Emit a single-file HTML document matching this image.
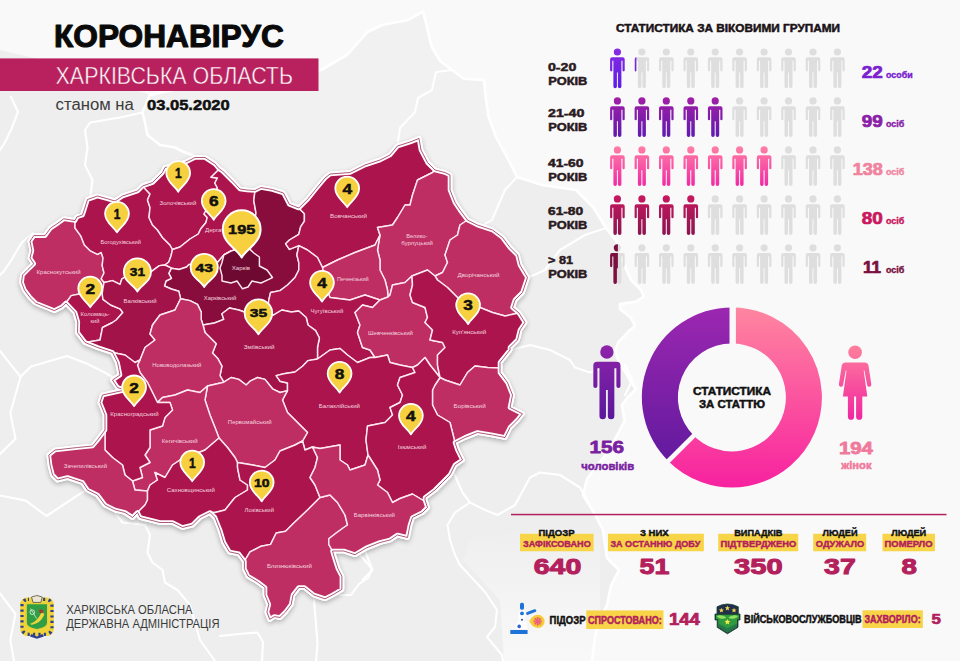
<!DOCTYPE html>
<html lang="uk"><head><meta charset="utf-8"><title>Коронавірус — Харківська область</title>
<style>
html,body{margin:0;padding:0;background:#eeeeee;}
body{width:960px;height:661px;overflow:hidden;position:relative;font-family:"Liberation Sans",sans-serif;}
svg{position:absolute;left:0;top:0;display:block}
text{font-family:"Liberation Sans",sans-serif;}
.b{font-weight:bold}
.lbl{font-size:6.2px;fill:#f3d3df;text-anchor:middle}
.pin{font-weight:bold;text-anchor:middle;fill:#111}
</style></head><body>
<svg width="960" height="661" viewBox="0 0 960 661">
<defs>
<linearGradient id="bgfade" x1="0" x2="1" y1="0" y2="0"><stop offset="0" stop-color="#f8f8f8" stop-opacity="0"/><stop offset="1" stop-color="#f8f8f8" stop-opacity="1"/></linearGradient>
<filter id="sh" x="-5%" y="-5%" width="110%" height="112%"><feGaussianBlur in="SourceAlpha" stdDeviation="2.5"/><feOffset dx="0" dy="2"/><feComponentTransfer><feFuncA type="linear" slope="0.28"/></feComponentTransfer><feMerge><feMergeNode/><feMergeNode in="SourceGraphic"/></feMerge></filter>
</defs>

<polygon points="0.0,-10.0 0.0,50.0 60.0,64.0 150.0,95.0 200.0,84.0 321.0,70.0 347.0,55.0 367.5,32.0 382.0,25.0 408.0,20.0 423.0,11.7 426.0,23.0 431.6,46.6 440.0,61.0 452.0,70.0 463.7,78.7 484.0,80.0 485.5,96.0 488.5,116.6 496.0,137.0 510.0,163.0 517.0,177.0 542.0,185.0 576.0,190.0 593.0,207.0 606.0,228.0 619.0,245.0 623.0,262.0 631.0,280.0 641.0,290.0 644.0,296.5 636.0,301.6 620.0,304.0 620.0,309.0 631.0,318.0 635.0,326.0 628.6,331.0 623.5,337.0 618.5,342.0 615.0,350.0 619.0,362.0 627.0,375.0 631.0,382.0 636.0,389.0 627.0,398.0 622.0,405.0 624.5,420.7 620.0,430.0 615.0,439.0 610.0,450.0 597.0,465.0 587.0,479.0 583.0,495.0 595.0,514.5 603.0,530.0 607.0,558.0 619.0,570.0 611.0,585.5 607.0,605.0 599.0,621.0 595.0,637.0 591.0,670.0 970.0,670.0 970.0,-10.0" fill="#f9f9f9"/>
<polygon points="195.0,156.0 185.0,152.5 175.0,147.5 160.0,145.0 147.5,135.0 145.0,122.5 142.5,112.5 150.0,95.0 200.0,84.0 321.0,70.0 347.0,55.0 367.5,32.0 382.0,25.0 408.0,20.0 423.0,11.7 426.0,23.0 431.6,46.6 440.0,61.0 452.0,70.0 463.7,78.7 484.0,80.0 485.5,96.0 488.5,116.6 496.0,137.0 510.0,163.0 517.0,177.0 505.0,190.0 492.0,220.0 480.0,227.0 435.0,172.0 417.0,143.0 330.0,176.0 300.0,208.0 255.0,192.0 220.0,172.0" fill="#f1f1f1"/>
<defs><linearGradient id="bglow" x1="0" y1="0" x2="0" y2="1"><stop offset="0" stop-color="#f9f9f9" stop-opacity="0"/><stop offset="1" stop-color="#f9f9f9" stop-opacity="0.95"/></linearGradient></defs>
<polygon points="500,600 463,560 470,540 600,520 600,661 504,661" fill="url(#bglow)"/>
<g fill="none" stroke="#ffffff" stroke-linejoin="round" stroke-linecap="round">
<path d="M150.0,95.0 L200.0,84.0 L321.0,70.0 L347.0,55.0 L367.5,32.0 L382.0,25.0 L408.0,20.0 L423.0,11.7 L426.0,23.0 L431.6,46.6 L440.0,61.0 L452.0,70.0 L463.7,78.7 L484.0,80.0 L485.5,96.0 L488.5,116.6 L496.0,137.0 L510.0,163.0 L517.0,177.0 L542.0,185.0 L576.0,190.0 L593.0,207.0 L606.0,228.0 L619.0,245.0 L623.0,262.0 L631.0,280.0 L641.0,290.0 L644.0,296.5 L636.0,301.6 L620.0,304.0 L620.0,309.0 L631.0,318.0 L635.0,326.0 L628.6,331.0 L623.5,337.0 L618.5,342.0 L615.0,350.0 L619.0,362.0 L627.0,375.0 L631.0,382.0 L636.0,389.0 L627.0,398.0 L622.0,405.0 L624.5,420.7 L620.0,430.0 L615.0,439.0 L610.0,450.0 L597.0,465.0 L587.0,479.0 L583.0,495.0 L595.0,514.5 L603.0,530.0 L607.0,558.0 L619.0,570.0 L611.0,585.5 L607.0,605.0 L599.0,621.0 L595.0,637.0 L591.0,670.0" stroke-width="2.6"/>
<path d="M195.0,156.0 L185.0,152.5 L175.0,147.5 L160.0,145.0 L147.5,135.0 L145.0,122.5 L142.5,112.5 L150.0,95.0" stroke-width="2.6"/>
<path d="M517.0,177.0 L505.0,190.0 L492.0,220.0 L480.0,227.0" stroke-width="2"/>
<path d="M142.5,112.5 L120.0,117.5 L90.0,122.5 L85.0,130.0 L87.5,147.5 L85.0,165.0 L92.5,180.0 L90.0,200.0" stroke-width="2.1"/>
<path d="M11.0,97.0 L18.0,112.0 L11.0,130.0 L4.0,144.0 L0.0,150.0" stroke-width="2.1"/>
<path d="M32.7,233.0 L21.8,242.5 L11.0,260.6 L3.6,271.5 L0.0,275.0" stroke-width="2.1"/>
<path d="M0.0,351.0 L20.6,376.8 L31.0,366.4 L67.0,356.0 L87.7,364.0 L103.0,371.6 L116.0,379.0" stroke-width="2.1"/>
<path d="M20.6,376.8 L10.3,413.0 L15.5,438.7 L0.0,454.0" stroke-width="2.1"/>
<path d="M0.0,593.5 L15.5,614.0 L10.3,640.0 L14.0,661.0" stroke-width="2.1"/>
<path d="M115.0,512.5 L122.5,522.5 L145.0,525.0 L150.0,535.0 L147.5,552.5 L152.5,562.5 L162.5,570.0 L165.0,582.5 L177.5,590.0 L190.0,605.0 L200.0,640.0 L215.0,661.0" stroke-width="2.1"/>
<path d="M0.0,495.5 L25.8,500.6 L46.4,516.0 L77.4,495.5 L84.0,491.0" stroke-width="2.1"/>
<path d="M336.0,595.0 L351.0,595.0 L359.0,584.0 L368.0,578.0 L372.0,569.0 L362.5,557.5 L358.0,554.0" stroke-width="2.1"/>
<path d="M314.0,600.0 L315.6,619.0 L317.5,644.0 L316.0,661.0" stroke-width="2.1"/>
<path d="M220.0,636.0 L239.0,634.0 L257.5,632.5 L263.0,642.0 L262.0,661.0" stroke-width="2.1"/>
<path d="M452.5,470.0 L462.5,492.5 L470.0,502.5 L485.0,510.0 L497.5,515.0 L515.0,505.0 L530.0,477.5 L540.0,472.5 L560.0,475.0 L580.0,487.5 L590.0,505.0" stroke-width="2.1"/>
<path d="M470.0,502.5 L455.0,512.5 L447.5,525.0 L450.0,540.0 L455.0,555.0 L460.0,565.0 L485.0,592.0 L497.0,610.0 L495.0,627.0 L487.0,637.0 L502.0,655.0 L503.0,661.0" stroke-width="2.1"/>
<path d="M365.0,551.0 L372.5,570.0 L362.5,580.0" stroke-width="2.1"/>
<path d="M510.0,350.0 L530.0,345.0 L550.0,350.0 L570.0,360.0 L575.0,367.5 L590.0,372.5 L619.0,362.0" stroke-width="2.1"/>
<path d="M398.0,142.0 L400.0,128.0 L415.0,112.0 L418.0,98.0 L432.0,90.0 L436.0,72.0 L452.0,70.0" stroke-width="2.1"/>
<path d="M625.0,365.0 L632.5,380.0 L625.0,395.0" stroke-width="2.1"/>
<path d="M527.0,278.0 L545.0,270.0 L560.0,250.0 L585.0,235.0 L606.0,228.0" stroke-width="2.1"/>
</g>
<g id="map">
<polygon points="75.0,220.6 76.9,216.9 82.5,215.0 84.4,209.4 87.5,199.5 97.5,196.0 107.5,198.8 115.0,201.0 122.5,196.0 137.5,191.0 142.5,186.0 152.5,182.5 162.5,172.5 165.0,167.5 172.5,166.0 185.0,162.5 195.0,157.5 205.0,157.5 215.0,164.0 219.3,169.0 222.5,171.0 232.5,181.0 240.0,189.0 247.0,190.0 255.0,190.5 261.0,187.5 272.5,189.5 283.5,193.0 289.4,204.4 298.8,208.0 308.0,198.8 315.6,189.4 325.0,178.0 330.0,174.0 350.0,172.5 365.0,165.0 380.0,160.0 390.0,155.0 397.5,146.0 410.0,142.0 419.0,138.5 421.0,150.0 427.5,162.5 435.0,170.0 445.0,172.5 450.0,175.0 450.0,190.0 455.0,202.5 460.0,210.0 467.5,220.0 477.5,225.0 492.5,230.0 502.5,237.5 510.0,247.5 517.5,255.0 520.0,265.0 527.5,277.5 525.0,285.0 522.5,292.5 515.0,300.0 512.5,307.5 519.0,313.0 525.0,322.5 520.0,330.0 517.5,340.0 510.0,347.5 510.0,350.0 500.0,362.5 500.0,368.0 500.0,372.5 507.5,382.5 512.5,395.0 510.0,407.5 522.5,413.8 517.5,420.0 510.0,427.5 505.0,437.5 492.5,435.0 477.5,432.5 465.0,437.5 455.0,442.5 457.5,450.0 462.5,460.0 455.0,465.0 450.0,475.0 442.5,482.5 435.0,490.0 425.0,497.5 425.0,500.0 427.5,507.5 422.5,512.5 412.5,517.5 410.0,525.0 407.5,537.5 397.5,535.0 390.0,540.0 380.0,542.5 366.2,548.0 355.0,554.7 343.8,551.0 332.5,551.0 334.4,557.5 338.0,568.8 341.9,576.2 341.9,589.4 332.5,595.0 325.0,598.8 313.8,595.0 304.4,587.5 298.8,587.5 293.0,595.0 291.2,604.4 285.6,612.0 280.0,617.5 274.4,616.6 269.7,619.4 266.9,612.0 268.8,604.4 265.0,595.0 265.0,587.5 257.5,581.9 248.0,576.2 244.4,568.8 244.4,561.2 238.8,553.8 229.4,551.9 223.8,542.5 220.0,530.0 215.0,517.5 210.0,512.5 200.0,517.5 192.5,525.0 182.5,527.5 172.5,522.5 160.0,522.5 150.0,520.0 140.0,517.5 137.5,512.5 132.5,517.5 125.0,512.5 115.0,510.0 105.0,505.0 97.5,495.0 87.5,490.0 82.5,482.5 67.5,477.5 57.5,480.0 52.5,475.0 50.0,465.0 48.8,455.0 55.0,450.0 77.5,447.5 92.5,446.0 97.5,440.0 105.0,430.0 105.0,415.0 100.0,402.5 102.5,395.0 125.0,390.0 117.5,387.5 112.5,380.0 120.0,375.0 117.5,362.5 112.5,352.5 97.5,347.5 85.0,342.5 77.5,332.5 77.8,322.0 75.0,312.5 66.0,303.0 61.9,306.9 54.4,310.6 45.0,306.9 35.6,303.0 30.0,297.5 24.4,290.0 21.6,282.5 22.5,275.0 28.0,269.4 33.8,263.8 30.0,258.0 31.9,250.6 30.0,241.2 33.8,235.6 45.0,235.6 50.6,228.0 56.2,224.4 63.8,218.8" fill="#ac144d" stroke="#fff" stroke-width="4.6" stroke-linejoin="round" filter="url(#sh)"/>
<polygon points="75.0,220.6 75.0,228.0 80.6,235.6 84.4,245.0 90.0,250.6 97.5,254.4 101.2,252.5 103.0,258.0 102.2,265.6 104.0,273.0 101.2,278.8 104.0,282.5 103.0,288.0 102.2,293.8 95.0,292.0 80.6,293.8 71.2,295.6 66.0,303.0 61.9,306.9 54.4,310.6 45.0,306.9 35.6,303.0 30.0,297.5 24.4,290.0 21.6,282.5 22.5,275.0 28.0,269.4 33.8,263.8 30.0,258.0 31.9,250.6 30.0,241.2 33.8,235.6 45.0,235.6 50.6,228.0 56.2,224.4 63.8,218.8" fill="#be2e62" stroke="#ffe9f0" stroke-width="1.45" stroke-linejoin="round"/>
<polygon points="66.0,303.0 71.2,295.6 80.6,293.8 95.0,292.0 102.2,293.8 103.0,299.4 110.6,305.0 120.0,308.8 122.8,312.5 116.2,320.0 112.5,322.5 102.5,327.5 100.0,340.0 85.0,342.5 77.5,332.5 77.8,322.0 75.0,312.5" fill="#ac144d" stroke="#ffe9f0" stroke-width="1.45" stroke-linejoin="round"/>
<polygon points="75.0,220.6 76.9,216.9 82.5,215.0 84.4,209.4 87.5,199.5 97.5,196.0 107.5,198.8 115.0,201.0 122.5,196.0 137.5,191.0 142.5,186.0 150.0,194.0 147.5,200.0 150.0,207.5 149.0,217.5 152.5,225.0 157.5,230.0 162.5,237.5 170.0,245.0 172.5,249.5 171.0,256.0 168.8,262.0 165.0,265.0 159.4,265.6 151.9,271.2 140.0,274.0 125.6,276.9 121.9,278.8 120.0,284.4 112.5,280.6 104.0,282.5 101.2,278.8 104.0,273.0 102.2,265.6 103.0,258.0 101.2,252.5 97.5,254.4 90.0,250.6 84.4,245.0 80.6,235.6 75.0,228.0" fill="#ac144d" stroke="#ffe9f0" stroke-width="1.45" stroke-linejoin="round"/>
<polygon points="142.5,186.0 152.5,182.5 162.5,172.5 165.0,167.5 172.5,166.0 185.0,162.5 195.0,157.5 205.0,157.5 215.0,164.0 219.3,169.0 211.0,177.3 217.4,178.0 214.8,183.0 217.4,188.0 212.0,200.0 204.0,214.0 207.2,217.4 206.0,222.5 200.8,228.8 198.3,234.0 190.0,239.0 180.0,247.0 172.5,249.5 170.0,245.0 162.5,237.5 157.5,230.0 152.5,225.0 149.0,217.5 150.0,207.5 147.5,200.0 150.0,194.0" fill="#ac144d" stroke="#ffe9f0" stroke-width="1.45" stroke-linejoin="round"/>
<polygon points="219.3,169.0 222.5,171.0 232.5,181.0 240.0,189.0 247.0,190.0 255.0,190.5 253.8,200.6 256.0,213.0 254.0,225.0 254.0,240.0 250.0,249.4 240.0,249.0 231.0,251.0 223.8,255.0 217.5,262.5 205.0,266.0 189.0,264.4 186.6,267.0 179.0,269.5 171.4,268.2 165.0,265.0 168.8,262.0 171.0,256.0 172.5,249.5 180.0,247.0 190.0,239.0 198.3,234.0 200.8,228.8 206.0,222.5 207.2,217.4 204.0,214.0 212.0,200.0 217.4,188.0 214.8,183.0 217.4,178.0 211.0,177.3" fill="#ac144d" stroke="#ffe9f0" stroke-width="1.45" stroke-linejoin="round"/>
<polygon points="255.0,190.5 261.0,187.5 272.5,189.5 283.5,193.0 289.4,204.4 298.8,208.0 304.4,213.8 304.4,221.2 300.6,226.9 298.8,234.4 289.4,240.0 285.6,243.8 289.4,249.4 298.8,245.6 296.9,255.0 298.8,262.5 298.8,270.0 295.0,277.5 287.5,285.0 280.0,290.6 270.6,292.5 268.8,300.0 268.0,308.0 255.0,310.0 244.4,312.0 238.8,310.0 229.4,308.0 221.9,313.8 223.8,319.4 214.4,323.0 203.0,325.0 201.2,319.4 201.2,312.0 197.5,304.4 190.0,300.6 180.6,298.8 178.8,291.2 171.3,289.0 164.5,286.0 166.0,281.0 171.4,278.4 168.8,273.3 171.4,268.2 179.0,269.5 186.6,267.0 189.0,264.4 205.0,266.0 217.5,262.5 223.8,255.0 231.0,251.0 240.0,249.0 250.0,249.4 254.0,240.0 254.0,225.0 256.0,213.0 253.8,200.6" fill="#880d3c" stroke="#ffe9f0" stroke-width="1.45" stroke-linejoin="round"/>
<polygon points="104.0,282.5 112.5,280.6 120.0,284.4 121.9,278.8 125.6,276.9 140.0,274.0 151.9,271.2 159.4,265.6 165.0,265.0 171.4,268.2 168.8,273.3 171.4,278.4 166.0,281.0 164.5,286.0 171.3,289.0 178.8,291.2 180.6,298.8 175.0,310.0 160.0,315.0 152.5,325.0 150.0,334.0 155.0,340.0 145.0,347.5 140.0,360.0 135.0,362.5 125.0,355.0 112.5,352.5 97.5,347.5 85.0,342.5 100.0,340.0 102.5,327.5 112.5,322.5 116.2,320.0 122.8,312.5 120.0,308.8 110.6,305.0 103.0,299.4 102.2,293.8 103.0,288.0" fill="#a2134a" stroke="#ffe9f0" stroke-width="1.45" stroke-linejoin="round"/>
<polygon points="298.8,208.0 308.0,198.8 315.6,189.4 325.0,178.0 330.0,174.0 350.0,172.5 365.0,165.0 380.0,160.0 390.0,155.0 397.5,146.0 410.0,142.0 419.0,138.5 421.0,150.0 427.5,162.5 435.0,170.0 432.5,172.5 417.5,180.0 412.5,195.0 410.0,205.0 405.0,205.0 397.5,217.5 392.5,225.0 377.5,227.5 380.0,235.0 375.0,245.0 355.0,252.5 337.5,260.0 322.5,267.5 317.5,257.5 307.5,250.0 298.8,245.6 289.4,249.4 285.6,243.8 289.4,240.0 298.8,234.4 300.6,226.9 304.4,221.2 304.4,213.8" fill="#ac144d" stroke="#ffe9f0" stroke-width="1.45" stroke-linejoin="round"/>
<polygon points="435.0,170.0 445.0,172.5 450.0,175.0 450.0,190.0 455.0,202.5 460.0,210.0 467.5,220.0 460.0,225.0 457.5,235.0 450.0,240.0 447.5,247.5 445.0,255.0 447.5,262.5 442.5,272.5 435.0,276.0 427.5,270.0 412.0,276.0 405.0,282.5 392.5,285.0 390.0,295.0 388.0,297.0 387.5,290.0 385.0,280.0 380.0,270.0 380.0,260.0 377.5,250.0 380.0,235.0 377.5,227.5 392.5,225.0 397.5,217.5 405.0,205.0 410.0,205.0 412.5,195.0 417.5,180.0 432.5,172.5" fill="#be2e62" stroke="#ffe9f0" stroke-width="1.45" stroke-linejoin="round"/>
<polygon points="467.5,220.0 477.5,225.0 492.5,230.0 502.5,237.5 510.0,247.5 517.5,255.0 520.0,265.0 527.5,277.5 525.0,285.0 522.5,292.5 515.0,300.0 512.5,307.5 519.0,313.0 505.0,316.0 492.5,312.5 480.0,307.5 468.0,303.0 457.5,297.5 447.5,287.5 437.5,280.0 435.0,276.0 442.5,272.5 447.5,262.5 445.0,255.0 447.5,247.5 450.0,240.0 457.5,235.0 460.0,225.0" fill="#be2e62" stroke="#ffe9f0" stroke-width="1.45" stroke-linejoin="round"/>
<polygon points="380.0,235.0 375.0,245.0 355.0,252.5 337.5,260.0 322.5,267.5 325.0,285.0 330.0,297.5 350.0,300.0 365.0,295.0 380.0,300.0 388.0,297.0 387.5,290.0 385.0,280.0 380.0,270.0 380.0,260.0 377.5,250.0" fill="#be2e62" stroke="#ffe9f0" stroke-width="1.45" stroke-linejoin="round"/>
<polygon points="298.8,245.6 307.5,250.0 317.5,257.5 322.5,267.5 325.0,285.0 330.0,297.5 350.0,300.0 365.0,295.0 380.0,300.0 372.5,307.5 362.5,305.0 355.0,312.5 360.0,325.0 357.5,332.5 360.0,340.0 362.5,347.5 370.0,350.0 375.0,357.5 370.0,357.5 357.5,362.5 347.5,355.0 340.0,348.5 330.0,350.0 317.5,359.0 317.5,347.5 319.4,338.0 315.6,330.6 308.0,325.0 306.2,317.5 298.8,311.0 291.2,312.0 281.9,310.0 272.5,315.6 268.0,308.0 268.8,300.0 270.6,292.5 280.0,290.6 287.5,285.0 295.0,277.5 298.8,270.0 298.8,262.5 296.9,255.0" fill="#ac144d" stroke="#ffe9f0" stroke-width="1.45" stroke-linejoin="round"/>
<polygon points="412.0,276.0 412.5,285.0 410.0,295.0 412.5,302.5 425.0,307.5 427.5,317.5 425.0,322.5 432.5,330.0 430.0,340.0 442.5,342.5 445.0,347.5 437.5,355.0 437.5,365.0 440.0,377.5 430.0,365.0 425.0,357.5 417.5,365.0 412.5,367.5 400.0,365.0 390.0,362.5 387.5,355.0 375.0,357.5 370.0,350.0 362.5,347.5 360.0,340.0 357.5,332.5 360.0,325.0 355.0,312.5 362.5,305.0 372.5,307.5 380.0,300.0 388.0,297.0 390.0,295.0 392.5,285.0 405.0,282.5" fill="#be2e62" stroke="#ffe9f0" stroke-width="1.45" stroke-linejoin="round"/>
<polygon points="435.0,276.0 437.5,280.0 447.5,287.5 457.5,297.5 468.0,303.0 480.0,307.5 492.5,312.5 505.0,316.0 519.0,313.0 525.0,322.5 520.0,330.0 517.5,340.0 510.0,347.5 510.0,350.0 500.0,362.5 500.0,368.0 487.5,367.5 475.0,366.0 467.5,372.5 460.0,385.0 452.5,382.5 445.0,380.0 440.0,377.5 437.5,365.0 437.5,355.0 445.0,347.5 442.5,342.5 430.0,340.0 432.5,330.0 425.0,322.5 427.5,317.5 425.0,307.5 412.5,302.5 410.0,295.0 412.5,285.0 412.0,276.0 427.5,270.0" fill="#ac144d" stroke="#ffe9f0" stroke-width="1.45" stroke-linejoin="round"/>
<polygon points="268.0,308.0 272.5,315.6 281.9,310.0 291.2,312.0 298.8,311.0 306.2,317.5 308.0,325.0 315.6,330.6 319.4,338.0 317.5,347.5 317.5,359.0 308.0,360.6 302.5,366.2 295.0,372.0 283.8,373.8 276.2,375.6 280.0,381.2 287.5,383.0 287.5,390.6 280.0,392.5 272.5,388.8 265.0,379.4 257.5,377.5 250.0,381.2 246.2,385.0 238.8,379.4 231.2,377.5 223.8,382.2 220.0,375.6 221.9,366.2 218.0,358.8 212.5,353.0 216.2,343.8 208.8,336.2 205.0,332.5 203.0,325.0 214.4,323.0 223.8,319.4 221.9,313.8 229.4,308.0 238.8,310.0 244.4,312.0 255.0,310.0" fill="#a2134a" stroke="#ffe9f0" stroke-width="1.45" stroke-linejoin="round"/>
<polygon points="203.0,325.0 205.0,332.5 208.8,336.2 216.2,343.8 212.5,353.0 218.0,358.8 221.9,366.2 220.0,375.6 223.8,382.2 207.5,386.0 200.0,392.5 187.5,390.0 175.0,395.0 162.5,397.5 157.5,402.5 147.5,382.5 140.0,372.5 137.5,365.0 140.0,360.0 145.0,347.5 155.0,340.0 150.0,334.0 152.5,325.0 160.0,315.0 175.0,310.0 180.6,298.8 190.0,300.6 197.5,304.4 201.2,312.0 201.2,319.4" fill="#be2e62" stroke="#ffe9f0" stroke-width="1.45" stroke-linejoin="round"/>
<polygon points="317.5,359.0 330.0,350.0 340.0,348.5 347.5,355.0 357.5,362.5 370.0,357.5 375.0,357.5 387.5,355.0 390.0,362.5 400.0,365.0 412.5,367.5 415.0,372.5 400.0,377.5 397.5,385.0 402.5,395.0 400.0,402.5 390.0,407.5 392.5,415.0 385.0,422.5 367.5,426.0 366.0,440.0 368.0,455.0 365.0,465.0 350.0,470.0 347.5,465.0 340.0,460.0 340.0,445.0 320.0,448.5 312.5,447.0 305.0,450.0 302.5,441.0 307.5,432.5 297.5,422.5 287.5,412.5 282.5,400.0 287.5,390.6 287.5,383.0 280.0,381.2 276.2,375.6 283.8,373.8 295.0,372.0 302.5,366.2 308.0,360.6" fill="#ac144d" stroke="#ffe9f0" stroke-width="1.45" stroke-linejoin="round"/>
<polygon points="440.0,377.5 445.0,380.0 452.5,382.5 460.0,385.0 467.5,372.5 475.0,366.0 487.5,367.5 500.0,368.0 500.0,372.5 507.5,382.5 512.5,395.0 510.0,407.5 522.5,413.8 517.5,420.0 510.0,427.5 505.0,437.5 492.5,435.0 477.5,432.5 465.0,437.5 455.0,442.5 452.5,432.5 450.0,422.5 437.5,415.0 432.5,405.0 432.5,390.0 435.0,385.0" fill="#be2e62" stroke="#ffe9f0" stroke-width="1.45" stroke-linejoin="round"/>
<polygon points="412.5,367.5 417.5,365.0 425.0,357.5 430.0,365.0 440.0,377.5 435.0,385.0 432.5,390.0 432.5,405.0 437.5,415.0 450.0,422.5 452.5,432.5 455.0,442.5 457.5,450.0 462.5,460.0 455.0,465.0 450.0,475.0 442.5,482.5 435.0,490.0 425.0,497.5 425.0,500.0 422.5,500.0 412.5,494.0 400.0,498.5 392.5,502.5 387.5,492.5 377.5,485.0 380.0,480.0 377.5,470.0 368.0,455.0 366.0,440.0 367.5,426.0 385.0,422.5 392.5,415.0 390.0,407.5 400.0,402.5 402.5,395.0 397.5,385.0 400.0,377.5 415.0,372.5" fill="#ac144d" stroke="#ffe9f0" stroke-width="1.45" stroke-linejoin="round"/>
<polygon points="223.8,382.2 207.5,386.0 205.0,400.0 210.0,415.0 215.0,427.5 219.0,438.0 227.5,447.5 235.0,457.5 237.5,462.5 252.5,465.0 265.0,467.5 275.0,460.0 280.0,451.0 295.0,445.0 302.5,441.0 307.5,432.5 297.5,422.5 287.5,412.5 282.5,400.0 287.5,390.6 280.0,392.5 272.5,388.8 265.0,379.4 257.5,377.5 250.0,381.2 246.2,385.0 238.8,379.4 231.2,377.5" fill="#be2e62" stroke="#ffe9f0" stroke-width="1.45" stroke-linejoin="round"/>
<polygon points="207.5,386.0 200.0,392.5 187.5,390.0 175.0,395.0 162.5,397.5 157.5,402.5 170.0,402.5 172.5,410.0 165.0,417.5 162.5,426.0 150.0,430.0 150.0,447.5 145.0,455.0 150.0,462.5 140.0,467.5 142.5,477.5 132.5,481.0 135.0,490.0 147.5,491.0 150.0,485.0 157.5,480.0 155.0,472.5 165.0,477.5 172.5,465.0 180.0,460.0 205.0,450.0 219.0,438.0 215.0,427.5 210.0,415.0 205.0,400.0" fill="#be2e62" stroke="#ffe9f0" stroke-width="1.45" stroke-linejoin="round"/>
<polygon points="112.5,352.5 125.0,355.0 135.0,362.5 140.0,360.0 137.5,365.0 140.0,372.5 147.5,382.5 157.5,402.5 170.0,402.5 172.5,410.0 165.0,417.5 162.5,426.0 150.0,430.0 150.0,447.5 145.0,455.0 150.0,462.5 140.0,467.5 142.5,477.5 132.5,481.0 125.0,475.0 122.5,465.0 112.5,457.5 105.0,450.0 105.0,430.0 105.0,415.0 100.0,402.5 102.5,395.0 125.0,390.0 117.5,387.5 112.5,380.0 120.0,375.0 117.5,362.5" fill="#ac144d" stroke="#ffe9f0" stroke-width="1.45" stroke-linejoin="round"/>
<polygon points="105.0,430.0 105.0,450.0 112.5,457.5 122.5,465.0 125.0,475.0 132.5,481.0 135.0,490.0 147.5,491.0 147.5,500.0 145.0,505.0 137.5,512.5 132.5,517.5 125.0,512.5 115.0,510.0 105.0,505.0 97.5,495.0 87.5,490.0 82.5,482.5 67.5,477.5 57.5,480.0 52.5,475.0 50.0,465.0 48.8,455.0 55.0,450.0 77.5,447.5 92.5,446.0 97.5,440.0" fill="#be2e62" stroke="#ffe9f0" stroke-width="1.45" stroke-linejoin="round"/>
<polygon points="147.5,491.0 150.0,485.0 157.5,480.0 155.0,472.5 165.0,477.5 172.5,465.0 180.0,460.0 205.0,450.0 219.0,438.0 227.5,447.5 235.0,457.5 237.5,462.5 237.5,467.5 240.0,480.0 247.5,485.0 247.5,490.0 235.0,497.5 225.0,510.0 215.0,512.5 210.0,512.5 200.0,517.5 192.5,525.0 182.5,527.5 172.5,522.5 160.0,522.5 150.0,520.0 140.0,517.5 137.5,512.5 145.0,505.0 147.5,500.0" fill="#ac144d" stroke="#ffe9f0" stroke-width="1.45" stroke-linejoin="round"/>
<polygon points="237.5,462.5 252.5,465.0 265.0,467.5 275.0,460.0 280.0,451.0 295.0,445.0 302.5,441.0 305.0,450.0 312.5,447.0 317.5,457.5 315.0,467.5 310.0,477.5 315.0,485.0 320.0,497.5 307.5,510.0 297.0,520.0 293.0,523.8 285.6,531.2 276.2,533.0 270.6,544.4 261.2,546.2 250.0,551.9 244.4,561.2 238.8,553.8 229.4,551.9 223.8,542.5 220.0,530.0 215.0,517.5 210.0,512.5 215.0,512.5 225.0,510.0 235.0,497.5 247.5,490.0 247.5,485.0 240.0,480.0 237.5,467.5" fill="#ac144d" stroke="#ffe9f0" stroke-width="1.45" stroke-linejoin="round"/>
<polygon points="244.4,561.2 250.0,551.9 261.2,546.2 270.6,544.4 276.2,533.0 285.6,531.2 293.0,523.8 297.0,520.0 307.5,510.0 320.0,497.5 330.0,495.0 337.5,502.5 345.0,515.0 347.5,525.0 343.8,527.5 336.2,533.0 328.8,538.8 328.8,544.4 332.5,551.0 334.4,557.5 338.0,568.8 341.9,576.2 341.9,589.4 332.5,595.0 325.0,598.8 313.8,595.0 304.4,587.5 298.8,587.5 293.0,595.0 291.2,604.4 285.6,612.0 280.0,617.5 274.4,616.6 269.7,619.4 266.9,612.0 268.8,604.4 265.0,595.0 265.0,587.5 257.5,581.9 248.0,576.2 244.4,568.8" fill="#be2e62" stroke="#ffe9f0" stroke-width="1.45" stroke-linejoin="round"/>
<polygon points="312.5,447.0 320.0,448.5 340.0,445.0 340.0,460.0 347.5,465.0 350.0,470.0 365.0,465.0 368.0,455.0 377.5,470.0 380.0,480.0 377.5,485.0 387.5,492.5 392.5,502.5 400.0,498.5 412.5,494.0 422.5,500.0 425.0,500.0 427.5,507.5 422.5,512.5 412.5,517.5 410.0,525.0 407.5,537.5 397.5,535.0 390.0,540.0 380.0,542.5 366.2,548.0 355.0,554.7 343.8,551.0 332.5,551.0 328.8,544.4 328.8,538.8 336.2,533.0 343.8,527.5 347.5,525.0 345.0,515.0 337.5,502.5 330.0,495.0 320.0,497.5 315.0,485.0 310.0,477.5 315.0,467.5 317.5,457.5" fill="#be2e62" stroke="#ffe9f0" stroke-width="1.45" stroke-linejoin="round"/>
<polygon points="231.0,251.0 223.8,255.0 222.0,262.5 220.0,268.0 222.0,275.6 222.0,281.0 231.0,283.0 237.0,281.0 242.5,288.8 248.0,287.0 252.0,281.0 261.0,283.0 268.8,279.4 272.5,277.5 267.0,270.0 259.4,266.0 259.4,257.0 253.8,253.0 250.0,249.4 240.0,248.5" fill="#6e0a32" stroke="#ffe9f0" stroke-width="1.45" stroke-linejoin="round"/>
<polygon points="75.0,220.6 76.9,216.9 82.5,215.0 84.4,209.4 87.5,199.5 97.5,196.0 107.5,198.8 115.0,201.0 122.5,196.0 137.5,191.0 142.5,186.0 152.5,182.5 162.5,172.5 165.0,167.5 172.5,166.0 185.0,162.5 195.0,157.5 205.0,157.5 215.0,164.0 219.3,169.0 222.5,171.0 232.5,181.0 240.0,189.0 247.0,190.0 255.0,190.5 261.0,187.5 272.5,189.5 283.5,193.0 289.4,204.4 298.8,208.0 308.0,198.8 315.6,189.4 325.0,178.0 330.0,174.0 350.0,172.5 365.0,165.0 380.0,160.0 390.0,155.0 397.5,146.0 410.0,142.0 419.0,138.5 421.0,150.0 427.5,162.5 435.0,170.0 445.0,172.5 450.0,175.0 450.0,190.0 455.0,202.5 460.0,210.0 467.5,220.0 477.5,225.0 492.5,230.0 502.5,237.5 510.0,247.5 517.5,255.0 520.0,265.0 527.5,277.5 525.0,285.0 522.5,292.5 515.0,300.0 512.5,307.5 519.0,313.0 525.0,322.5 520.0,330.0 517.5,340.0 510.0,347.5 510.0,350.0 500.0,362.5 500.0,368.0 500.0,372.5 507.5,382.5 512.5,395.0 510.0,407.5 522.5,413.8 517.5,420.0 510.0,427.5 505.0,437.5 492.5,435.0 477.5,432.5 465.0,437.5 455.0,442.5 457.5,450.0 462.5,460.0 455.0,465.0 450.0,475.0 442.5,482.5 435.0,490.0 425.0,497.5 425.0,500.0 427.5,507.5 422.5,512.5 412.5,517.5 410.0,525.0 407.5,537.5 397.5,535.0 390.0,540.0 380.0,542.5 366.2,548.0 355.0,554.7 343.8,551.0 332.5,551.0 334.4,557.5 338.0,568.8 341.9,576.2 341.9,589.4 332.5,595.0 325.0,598.8 313.8,595.0 304.4,587.5 298.8,587.5 293.0,595.0 291.2,604.4 285.6,612.0 280.0,617.5 274.4,616.6 269.7,619.4 266.9,612.0 268.8,604.4 265.0,595.0 265.0,587.5 257.5,581.9 248.0,576.2 244.4,568.8 244.4,561.2 238.8,553.8 229.4,551.9 223.8,542.5 220.0,530.0 215.0,517.5 210.0,512.5 200.0,517.5 192.5,525.0 182.5,527.5 172.5,522.5 160.0,522.5 150.0,520.0 140.0,517.5 137.5,512.5 132.5,517.5 125.0,512.5 115.0,510.0 105.0,505.0 97.5,495.0 87.5,490.0 82.5,482.5 67.5,477.5 57.5,480.0 52.5,475.0 50.0,465.0 48.8,455.0 55.0,450.0 77.5,447.5 92.5,446.0 97.5,440.0 105.0,430.0 105.0,415.0 100.0,402.5 102.5,395.0 125.0,390.0 117.5,387.5 112.5,380.0 120.0,375.0 117.5,362.5 112.5,352.5 97.5,347.5 85.0,342.5 77.5,332.5 77.8,322.0 75.0,312.5 66.0,303.0 61.9,306.9 54.4,310.6 45.0,306.9 35.6,303.0 30.0,297.5 24.4,290.0 21.6,282.5 22.5,275.0 28.0,269.4 33.8,263.8 30.0,258.0 31.9,250.6 30.0,241.2 33.8,235.6 45.0,235.6 50.6,228.0 56.2,224.4 63.8,218.8" fill="none" stroke="#fff" stroke-width="4.6" stroke-linejoin="round"/>
<polygon points="75.0,220.6 76.9,216.9 82.5,215.0 84.4,209.4 87.5,199.5 97.5,196.0 107.5,198.8 115.0,201.0 122.5,196.0 137.5,191.0 142.5,186.0 152.5,182.5 162.5,172.5 165.0,167.5 172.5,166.0 185.0,162.5 195.0,157.5 205.0,157.5 215.0,164.0 219.3,169.0 222.5,171.0 232.5,181.0 240.0,189.0 247.0,190.0 255.0,190.5 261.0,187.5 272.5,189.5 283.5,193.0 289.4,204.4 298.8,208.0 308.0,198.8 315.6,189.4 325.0,178.0 330.0,174.0 350.0,172.5 365.0,165.0 380.0,160.0 390.0,155.0 397.5,146.0 410.0,142.0 419.0,138.5 421.0,150.0 427.5,162.5 435.0,170.0 445.0,172.5 450.0,175.0 450.0,190.0 455.0,202.5 460.0,210.0 467.5,220.0 477.5,225.0 492.5,230.0 502.5,237.5 510.0,247.5 517.5,255.0 520.0,265.0 527.5,277.5 525.0,285.0 522.5,292.5 515.0,300.0 512.5,307.5 519.0,313.0 525.0,322.5 520.0,330.0 517.5,340.0 510.0,347.5 510.0,350.0 500.0,362.5 500.0,368.0 500.0,372.5 507.5,382.5 512.5,395.0 510.0,407.5 522.5,413.8 517.5,420.0 510.0,427.5 505.0,437.5 492.5,435.0 477.5,432.5 465.0,437.5 455.0,442.5 457.5,450.0 462.5,460.0 455.0,465.0 450.0,475.0 442.5,482.5 435.0,490.0 425.0,497.5 425.0,500.0 427.5,507.5 422.5,512.5 412.5,517.5 410.0,525.0 407.5,537.5 397.5,535.0 390.0,540.0 380.0,542.5 366.2,548.0 355.0,554.7 343.8,551.0 332.5,551.0 334.4,557.5 338.0,568.8 341.9,576.2 341.9,589.4 332.5,595.0 325.0,598.8 313.8,595.0 304.4,587.5 298.8,587.5 293.0,595.0 291.2,604.4 285.6,612.0 280.0,617.5 274.4,616.6 269.7,619.4 266.9,612.0 268.8,604.4 265.0,595.0 265.0,587.5 257.5,581.9 248.0,576.2 244.4,568.8 244.4,561.2 238.8,553.8 229.4,551.9 223.8,542.5 220.0,530.0 215.0,517.5 210.0,512.5 200.0,517.5 192.5,525.0 182.5,527.5 172.5,522.5 160.0,522.5 150.0,520.0 140.0,517.5 137.5,512.5 132.5,517.5 125.0,512.5 115.0,510.0 105.0,505.0 97.5,495.0 87.5,490.0 82.5,482.5 67.5,477.5 57.5,480.0 52.5,475.0 50.0,465.0 48.8,455.0 55.0,450.0 77.5,447.5 92.5,446.0 97.5,440.0 105.0,430.0 105.0,415.0 100.0,402.5 102.5,395.0 125.0,390.0 117.5,387.5 112.5,380.0 120.0,375.0 117.5,362.5 112.5,352.5 97.5,347.5 85.0,342.5 77.5,332.5 77.8,322.0 75.0,312.5 66.0,303.0 61.9,306.9 54.4,310.6 45.0,306.9 35.6,303.0 30.0,297.5 24.4,290.0 21.6,282.5 22.5,275.0 28.0,269.4 33.8,263.8 30.0,258.0 31.9,250.6 30.0,241.2 33.8,235.6 45.0,235.6 50.6,228.0 56.2,224.4 63.8,218.8" fill="none" stroke="#93204d" stroke-width="0.75" stroke-linejoin="round"/>
</g>
<g class="lbl" style="text-anchor:start">
<text x="159.5" y="205.3" textLength="36.8" lengthAdjust="spacingAndGlyphs">Золочівський</text>
<text x="100.5" y="244.1" textLength="40.4" lengthAdjust="spacingAndGlyphs">Богодухівський</text>
<text x="330.0" y="218.3" textLength="37.0" lengthAdjust="spacingAndGlyphs">Вовчанський</text>
<text x="406.2" y="237.8" textLength="21.2" lengthAdjust="spacingAndGlyphs">Велико-</text>
<text x="401.2" y="245.0" textLength="31.8" lengthAdjust="spacingAndGlyphs">бурлуцький</text>
<text x="457.5" y="277.0" textLength="42.0" lengthAdjust="spacingAndGlyphs">Дворічанський</text>
<text x="36.6" y="274.4" textLength="44.0" lengthAdjust="spacingAndGlyphs">Краснокутський</text>
<text x="123.5" y="303.2" textLength="33.1" lengthAdjust="spacingAndGlyphs">Валківський</text>
<text x="231.7" y="270.0" textLength="18.4" lengthAdjust="spacingAndGlyphs">Харків</text>
<text x="203.8" y="299.6" textLength="32.5" lengthAdjust="spacingAndGlyphs">Харківський</text>
<text x="337.0" y="281.2" textLength="31.7" lengthAdjust="spacingAndGlyphs">Печенізький</text>
<text x="80.6" y="315.5" textLength="29.1" lengthAdjust="spacingAndGlyphs">Коломаць-</text>
<text x="90.5" y="323.0" textLength="9.0" lengthAdjust="spacingAndGlyphs">кий</text>
<text x="310.5" y="312.5" textLength="32.8" lengthAdjust="spacingAndGlyphs">Чугуївський</text>
<text x="368.0" y="335.0" textLength="45.0" lengthAdjust="spacingAndGlyphs">Шевченківський</text>
<text x="452.2" y="333.7" textLength="34.0" lengthAdjust="spacingAndGlyphs">Куп'янський</text>
<text x="243.8" y="349.0" textLength="30.7" lengthAdjust="spacingAndGlyphs">Зміївський</text>
<text x="152.2" y="367.2" textLength="49.3" lengthAdjust="spacingAndGlyphs">Нововодолазький</text>
<text x="318.8" y="407.6" textLength="41.2" lengthAdjust="spacingAndGlyphs">Балаклійський</text>
<text x="110.3" y="416.0" textLength="48.3" lengthAdjust="spacingAndGlyphs">Красноградський</text>
<text x="453.5" y="408.0" textLength="32.2" lengthAdjust="spacingAndGlyphs">Борівський</text>
<text x="227.8" y="424.3" textLength="43.9" lengthAdjust="spacingAndGlyphs">Первомайський</text>
<text x="161.7" y="442.8" textLength="36.0" lengthAdjust="spacingAndGlyphs">Кегичівський</text>
<text x="397.7" y="449.4" textLength="28.6" lengthAdjust="spacingAndGlyphs">Ізюмський</text>
<text x="63.8" y="467.8" textLength="43.2" lengthAdjust="spacingAndGlyphs">Зачепилівський</text>
<text x="166.8" y="492.4" textLength="48.1" lengthAdjust="spacingAndGlyphs">Сахновщинський</text>
<text x="244.5" y="512.4" textLength="29.5" lengthAdjust="spacingAndGlyphs">Лозівський</text>
<text x="353.8" y="517.0" textLength="41.2" lengthAdjust="spacingAndGlyphs">Барвінківський</text>
<text x="266.9" y="567.6" textLength="45.0" lengthAdjust="spacingAndGlyphs">Близнюківський</text>
<text x="205" y="231.6" textLength="40" lengthAdjust="spacingAndGlyphs">Дергачівський</text>
</g>
<g id="pins">
<path d="M178.2,191.7 C175.0,185.8 166.3,181.9 166.3,173.0 A11.9,11.9 0 1 1 190.1,173.0 C190.1,181.9 181.4,185.8 178.2,191.7Z" fill="#f6d03f" stroke="#fff" stroke-width="1.8" stroke-linejoin="round"/>
<text class="pin" x="178.2" y="178.1" font-size="14.0" textLength="6.6" lengthAdjust="spacingAndGlyphs" stroke="#111" stroke-width="0.5">1</text>
<path d="M117.0,232.4 C113.8,226.5 105.1,222.6 105.1,213.7 A11.9,11.9 0 1 1 128.9,213.7 C128.9,222.6 120.2,226.5 117.0,232.4Z" fill="#f6d03f" stroke="#fff" stroke-width="1.8" stroke-linejoin="round"/>
<text class="pin" x="117.0" y="218.8" font-size="14.0" textLength="6.6" lengthAdjust="spacingAndGlyphs" stroke="#111" stroke-width="0.5">1</text>
<path d="M213.7,219.7 C210.5,213.8 201.8,209.9 201.8,201.0 A11.9,11.9 0 1 1 225.6,201.0 C225.6,209.9 216.9,213.8 213.7,219.7Z" fill="#f6d03f" stroke="#fff" stroke-width="1.8" stroke-linejoin="round"/>
<text class="pin" x="213.7" y="206.1" font-size="14.0" textLength="9.6" lengthAdjust="spacingAndGlyphs" stroke="#111" stroke-width="0.5">6</text>
<path d="M347.2,207.2 C344.0,201.2 335.3,197.4 335.3,188.5 A11.9,11.9 0 1 1 359.1,188.5 C359.1,197.4 350.4,201.2 347.2,207.2Z" fill="#f6d03f" stroke="#fff" stroke-width="1.8" stroke-linejoin="round"/>
<text class="pin" x="347.2" y="193.6" font-size="14.0" textLength="9.6" lengthAdjust="spacingAndGlyphs" stroke="#111" stroke-width="0.5">4</text>
<path d="M137.4,291.5 C133.7,284.7 123.8,282.0 123.8,271.9 A13.6,13.6 0 1 1 151.0,271.9 C151.0,282.0 141.1,284.7 137.4,291.5Z" fill="#f6d03f" stroke="#fff" stroke-width="1.8" stroke-linejoin="round"/>
<text class="pin" x="137.4" y="276.1" font-size="11.6" textLength="15.2" lengthAdjust="spacingAndGlyphs" stroke="#111" stroke-width="0.5">31</text>
<path d="M204.2,287.0 C200.5,280.2 190.6,277.5 190.6,267.4 A13.6,13.6 0 1 1 217.8,267.4 C217.8,277.5 207.9,280.2 204.2,287.0Z" fill="#f6d03f" stroke="#fff" stroke-width="1.8" stroke-linejoin="round"/>
<text class="pin" x="204.2" y="271.6" font-size="11.6" textLength="17.4" lengthAdjust="spacingAndGlyphs" stroke="#111" stroke-width="0.5">43</text>
<path d="M90.2,307.2 C87.0,301.2 78.3,297.4 78.3,288.5 A11.9,11.9 0 1 1 102.1,288.5 C102.1,297.4 93.4,301.2 90.2,307.2Z" fill="#f6d03f" stroke="#fff" stroke-width="1.8" stroke-linejoin="round"/>
<text class="pin" x="90.2" y="293.6" font-size="14.0" textLength="9.6" lengthAdjust="spacingAndGlyphs" stroke="#111" stroke-width="0.5">2</text>
<path d="M322.0,301.5 C318.8,295.6 310.1,291.7 310.1,282.8 A11.9,11.9 0 1 1 333.9,282.8 C333.9,291.7 325.2,295.6 322.0,301.5Z" fill="#f6d03f" stroke="#fff" stroke-width="1.8" stroke-linejoin="round"/>
<text class="pin" x="322.0" y="287.9" font-size="14.0" textLength="9.6" lengthAdjust="spacingAndGlyphs" stroke="#111" stroke-width="0.5">4</text>
<path d="M258.4,334.3 C254.6,327.4 244.6,323.4 244.6,313.1 A13.8,13.8 0 1 1 272.2,313.1 C272.2,323.4 262.2,327.4 258.4,334.3Z" fill="#f6d03f" stroke="#fff" stroke-width="1.8" stroke-linejoin="round"/>
<text class="pin" x="258.4" y="317.4" font-size="11.8" textLength="17.4" lengthAdjust="spacingAndGlyphs" stroke="#111" stroke-width="0.5">35</text>
<path d="M468.1,324.0 C464.9,318.1 456.2,314.2 456.2,305.3 A11.9,11.9 0 1 1 480.0,305.3 C480.0,314.2 471.3,318.1 468.1,324.0Z" fill="#f6d03f" stroke="#fff" stroke-width="1.8" stroke-linejoin="round"/>
<text class="pin" x="468.1" y="310.4" font-size="14.0" textLength="9.6" lengthAdjust="spacingAndGlyphs" stroke="#111" stroke-width="0.5">3</text>
<path d="M339.6,392.5 C336.4,386.6 327.7,382.7 327.7,373.8 A11.9,11.9 0 1 1 351.5,373.8 C351.5,382.7 342.8,386.6 339.6,392.5Z" fill="#f6d03f" stroke="#fff" stroke-width="1.8" stroke-linejoin="round"/>
<text class="pin" x="339.6" y="378.9" font-size="14.0" textLength="9.6" lengthAdjust="spacingAndGlyphs" stroke="#111" stroke-width="0.5">8</text>
<path d="M134.1,406.1 C130.9,400.2 122.2,396.3 122.2,387.4 A11.9,11.9 0 1 1 146.0,387.4 C146.0,396.3 137.3,400.2 134.1,406.1Z" fill="#f6d03f" stroke="#fff" stroke-width="1.8" stroke-linejoin="round"/>
<text class="pin" x="134.1" y="392.5" font-size="14.0" textLength="9.6" lengthAdjust="spacingAndGlyphs" stroke="#111" stroke-width="0.5">2</text>
<path d="M410.9,434.4 C407.7,428.4 399.0,424.6 399.0,415.7 A11.9,11.9 0 1 1 422.8,415.7 C422.8,424.6 414.1,428.4 410.9,434.4Z" fill="#f6d03f" stroke="#fff" stroke-width="1.8" stroke-linejoin="round"/>
<text class="pin" x="410.9" y="420.8" font-size="14.0" textLength="9.6" lengthAdjust="spacingAndGlyphs" stroke="#111" stroke-width="0.5">4</text>
<path d="M192.2,481.2 C189.0,475.2 180.3,471.4 180.3,462.5 A11.9,11.9 0 1 1 204.1,462.5 C204.1,471.4 195.4,475.2 192.2,481.2Z" fill="#f6d03f" stroke="#fff" stroke-width="1.8" stroke-linejoin="round"/>
<text class="pin" x="192.2" y="467.6" font-size="14.0" textLength="6.6" lengthAdjust="spacingAndGlyphs" stroke="#111" stroke-width="0.5">1</text>
<path d="M261.7,501.3 C258.5,495.4 249.8,491.5 249.8,482.6 A11.9,11.9 0 1 1 273.6,482.6 C273.6,491.5 264.9,495.4 261.7,501.3Z" fill="#f6d03f" stroke="#fff" stroke-width="1.8" stroke-linejoin="round"/>
<text class="pin" x="261.7" y="486.8" font-size="11.6" textLength="15.5" lengthAdjust="spacingAndGlyphs" stroke="#111" stroke-width="0.5">10</text>
<path d="M241.7,257.5 C236.5,248.1 222.8,243.3 222.8,229.2 A18.9,18.9 0 1 1 260.6,229.2 C260.6,243.3 246.9,248.1 241.7,257.5Z" fill="#f6d03f" stroke="#fff" stroke-width="2.0" stroke-linejoin="round"/>
<text class="pin" x="241.7" y="233.9" font-size="13.0" textLength="27.2" lengthAdjust="spacingAndGlyphs" stroke="#111" stroke-width="0.5">195</text>
</g>
<rect x="0" y="58.4" width="318.5" height="32.6" fill="#b8205e"/>
<text class="b" x="54" y="46.9" font-size="31" textLength="229.8" lengthAdjust="spacingAndGlyphs" fill="#0a0a0a" stroke="#0a0a0a" stroke-width="1.1" stroke-linejoin="round">КОРОНАВІРУС</text>
<text x="55.6" y="83.8" font-size="23.2" textLength="237.4" lengthAdjust="spacingAndGlyphs" fill="#fff" stroke="#b8205e" stroke-width="0.45">ХАРКІВСЬКА ОБЛАСТЬ</text>
<text x="55.6" y="110" font-size="15.8" textLength="78.2" lengthAdjust="spacingAndGlyphs" fill="#3c3c3c">станом на</text>
<text class="b" x="147" y="110" font-size="14.5" textLength="82.7" lengthAdjust="spacingAndGlyphs" fill="#111" stroke="#111" stroke-width="0.5">03.05.2020</text>
<text class="b" x="616.0" y="32.0" font-size="10.9" textLength="224.0" lengthAdjust="spacingAndGlyphs" fill="#1a1216"  stroke="#1a1216" stroke-width="0.49" stroke-linejoin="round">СТАТИСТИКА ЗА ВІКОВИМИ ГРУПАМИ</text>
<defs>
<linearGradient id="r0" gradientUnits="userSpaceOnUse" x1="0" y1="0" x2="0" y2="40"><stop offset="0" stop-color="#8a2be2"/><stop offset="1" stop-color="#5a1ee6"/></linearGradient>
<linearGradient id="r1" gradientUnits="userSpaceOnUse" x1="0" y1="0" x2="0" y2="40"><stop offset="0" stop-color="#a21fa5"/><stop offset="1" stop-color="#5f1ab0"/></linearGradient>
<linearGradient id="r2" gradientUnits="userSpaceOnUse" x1="0" y1="0" x2="0" y2="40"><stop offset="0" stop-color="#ff7fa6"/><stop offset="1" stop-color="#f12aa3"/></linearGradient>
<linearGradient id="r3" gradientUnits="userSpaceOnUse" x1="0" y1="0" x2="0" y2="40"><stop offset="0" stop-color="#c8185f"/><stop offset="1" stop-color="#8a1450"/></linearGradient>
<linearGradient id="r4" gradientUnits="userSpaceOnUse" x1="0" y1="0" x2="0" y2="40"><stop offset="0" stop-color="#7b1040"/><stop offset="1" stop-color="#7b1040"/></linearGradient>
<linearGradient id="gm" gradientUnits="userSpaceOnUse" x1="0" y1="0" x2="0" y2="40"><stop offset="0" stop-color="#8e24aa"/><stop offset="1" stop-color="#5a189a"/></linearGradient>
<linearGradient id="gf" gradientUnits="userSpaceOnUse" x1="0" y1="345" x2="0" y2="420"><stop offset="0" stop-color="#ff809c"/><stop offset="1" stop-color="#f026a0"/></linearGradient>
<linearGradient id="dp" gradientUnits="userSpaceOnUse" x1="0" y1="307" x2="0" y2="487"><stop offset="0" stop-color="#9c27b0"/><stop offset="1" stop-color="#58189c"/></linearGradient>
<linearGradient id="dk" gradientUnits="userSpaceOnUse" x1="0" y1="307" x2="0" y2="487"><stop offset="0" stop-color="#ff86a0"/><stop offset="1" stop-color="#f7229f"/></linearGradient>
<clipPath id="c1"><rect x="-7.4" y="8" width="1.9" height="16"/></clipPath>
<clipPath id="c5"><rect x="-7.4" y="-1" width="7.9" height="42"/></clipPath>
<g id="pp"><circle cx="0" cy="3.6" r="3.6"/><path d="M-5.3,8.9 h10.6 a2,2 0 0 1 2,2 v11 a1.1,1.1 0 0 1 -2.2,0 v-9.5 h-1.1 v25.6 a1.75,1.75 0 0 1 -3.5,0 v-14 h-1 v14 a1.75,1.75 0 0 1 -3.5,0 v-25.6 h-1.1 v9.5 a1.1,1.1 0 0 1 -2.2,0 v-11 a2,2 0 0 1 2,-2z"/></g>
</defs>
<use href="#pp" x="617.4" y="48.4" fill="url(#r0)"/>
<use href="#pp" x="641.9" y="48.4" fill="#dedede"/>
<use href="#pp" x="666.3" y="48.4" fill="#dedede"/>
<use href="#pp" x="690.8" y="48.4" fill="#dedede"/>
<use href="#pp" x="715.2" y="48.4" fill="#dedede"/>
<use href="#pp" x="739.6" y="48.4" fill="#dedede"/>
<use href="#pp" x="764.1" y="48.4" fill="#dedede"/>
<use href="#pp" x="788.5" y="48.4" fill="#dedede"/>
<use href="#pp" x="813.0" y="48.4" fill="#dedede"/>
<use href="#pp" x="837.4" y="48.4" fill="#dedede"/>
<g transform="translate(641.9,48.4)" clip-path="url(#c1)" fill="url(#r0)"><use href="#pp"/></g>
<use href="#pp" x="617.4" y="97.3" fill="url(#r1)"/>
<use href="#pp" x="641.9" y="97.3" fill="url(#r1)"/>
<use href="#pp" x="666.3" y="97.3" fill="url(#r1)"/>
<use href="#pp" x="690.8" y="97.3" fill="url(#r1)"/>
<use href="#pp" x="715.2" y="97.3" fill="url(#r1)"/>
<use href="#pp" x="739.6" y="97.3" fill="#dedede"/>
<use href="#pp" x="764.1" y="97.3" fill="#dedede"/>
<use href="#pp" x="788.5" y="97.3" fill="#dedede"/>
<use href="#pp" x="813.0" y="97.3" fill="#dedede"/>
<use href="#pp" x="837.4" y="97.3" fill="#dedede"/>
<use href="#pp" x="617.4" y="146.3" fill="url(#r2)"/>
<use href="#pp" x="641.9" y="146.3" fill="url(#r2)"/>
<use href="#pp" x="666.3" y="146.3" fill="url(#r2)"/>
<use href="#pp" x="690.8" y="146.3" fill="url(#r2)"/>
<use href="#pp" x="715.2" y="146.3" fill="url(#r2)"/>
<use href="#pp" x="739.6" y="146.3" fill="url(#r2)"/>
<use href="#pp" x="764.1" y="146.3" fill="url(#r2)"/>
<use href="#pp" x="788.5" y="146.3" fill="#dedede"/>
<use href="#pp" x="813.0" y="146.3" fill="#dedede"/>
<use href="#pp" x="837.4" y="146.3" fill="#dedede"/>
<use href="#pp" x="617.4" y="195.3" fill="url(#r3)"/>
<use href="#pp" x="641.9" y="195.3" fill="url(#r3)"/>
<use href="#pp" x="666.3" y="195.3" fill="url(#r3)"/>
<use href="#pp" x="690.8" y="195.3" fill="url(#r3)"/>
<use href="#pp" x="715.2" y="195.3" fill="#dedede"/>
<use href="#pp" x="739.6" y="195.3" fill="#dedede"/>
<use href="#pp" x="764.1" y="195.3" fill="#dedede"/>
<use href="#pp" x="788.5" y="195.3" fill="#dedede"/>
<use href="#pp" x="813.0" y="195.3" fill="#dedede"/>
<use href="#pp" x="837.4" y="195.3" fill="#dedede"/>
<use href="#pp" x="617.4" y="244.2" fill="#dedede"/>
<use href="#pp" x="641.9" y="244.2" fill="#dedede"/>
<use href="#pp" x="666.3" y="244.2" fill="#dedede"/>
<use href="#pp" x="690.8" y="244.2" fill="#dedede"/>
<use href="#pp" x="715.2" y="244.2" fill="#dedede"/>
<use href="#pp" x="739.6" y="244.2" fill="#dedede"/>
<use href="#pp" x="764.1" y="244.2" fill="#dedede"/>
<use href="#pp" x="788.5" y="244.2" fill="#dedede"/>
<use href="#pp" x="813.0" y="244.2" fill="#dedede"/>
<use href="#pp" x="837.4" y="244.2" fill="#dedede"/>
<g transform="translate(617.4,244.2)" clip-path="url(#c5)" fill="url(#r4)"><use href="#pp"/></g>
<text class="b" x="548.0" y="70.9" font-size="10.8" textLength="28.3" lengthAdjust="spacingAndGlyphs" fill="#2b1a1e"  stroke="#2b1a1e" stroke-width="0.49" stroke-linejoin="round">0-20</text>
<text class="b" x="548.3" y="85.2" font-size="11.0" textLength="39.1" lengthAdjust="spacingAndGlyphs" fill="#2b1a1e"  stroke="#2b1a1e" stroke-width="0.49" stroke-linejoin="round">РОКІВ</text>
<text class="b" x="548.0" y="116.9" font-size="10.8" textLength="36.3" lengthAdjust="spacingAndGlyphs" fill="#2b1a1e"  stroke="#2b1a1e" stroke-width="0.49" stroke-linejoin="round">21-40</text>
<text class="b" x="548.3" y="131.0" font-size="11.0" textLength="39.1" lengthAdjust="spacingAndGlyphs" fill="#2b1a1e"  stroke="#2b1a1e" stroke-width="0.49" stroke-linejoin="round">РОКІВ</text>
<text class="b" x="548.0" y="166.8" font-size="10.8" textLength="35.5" lengthAdjust="spacingAndGlyphs" fill="#2b1a1e"  stroke="#2b1a1e" stroke-width="0.49" stroke-linejoin="round">41-60</text>
<text class="b" x="548.3" y="181.3" font-size="11.0" textLength="39.1" lengthAdjust="spacingAndGlyphs" fill="#2b1a1e"  stroke="#2b1a1e" stroke-width="0.49" stroke-linejoin="round">РОКІВ</text>
<text class="b" x="548.0" y="214.8" font-size="10.8" textLength="35.1" lengthAdjust="spacingAndGlyphs" fill="#2b1a1e"  stroke="#2b1a1e" stroke-width="0.49" stroke-linejoin="round">61-80</text>
<text class="b" x="548.3" y="228.9" font-size="11.0" textLength="39.1" lengthAdjust="spacingAndGlyphs" fill="#2b1a1e"  stroke="#2b1a1e" stroke-width="0.49" stroke-linejoin="round">РОКІВ</text>
<text class="b" x="548.0" y="263.8" font-size="10.8" textLength="25.0" lengthAdjust="spacingAndGlyphs" fill="#2b1a1e"  stroke="#2b1a1e" stroke-width="0.49" stroke-linejoin="round">&gt; 81</text>
<text class="b" x="548.3" y="277.9" font-size="11.0" textLength="39.1" lengthAdjust="spacingAndGlyphs" fill="#2b1a1e"  stroke="#2b1a1e" stroke-width="0.49" stroke-linejoin="round">РОКІВ</text>
<text class="b" x="861.8" y="78.0" font-size="16.3" textLength="21.0" lengthAdjust="spacingAndGlyphs" fill="#7a22d0"  stroke="#7a22d0" stroke-width="0.73" stroke-linejoin="round">22</text>
<text class="b" x="886.0" y="78.0" font-size="8.6" textLength="26.6" lengthAdjust="spacingAndGlyphs" fill="#7a22d0"  stroke="#7a22d0" stroke-width="0.39" stroke-linejoin="round">особи</text>
<text class="b" x="861.8" y="127.0" font-size="16.3" textLength="21.0" lengthAdjust="spacingAndGlyphs" fill="#8a1fa8"  stroke="#8a1fa8" stroke-width="0.73" stroke-linejoin="round">99</text>
<text class="b" x="886.0" y="127.0" font-size="8.6" textLength="18.3" lengthAdjust="spacingAndGlyphs" fill="#8a1fa8"  stroke="#8a1fa8" stroke-width="0.39" stroke-linejoin="round">осіб</text>
<text class="b" x="852.7" y="175.3" font-size="16.3" textLength="30.1" lengthAdjust="spacingAndGlyphs" fill="#f0849f"  stroke="#f0849f" stroke-width="0.73" stroke-linejoin="round">138</text>
<text class="b" x="886.0" y="175.3" font-size="8.6" textLength="18.3" lengthAdjust="spacingAndGlyphs" fill="#f0849f"  stroke="#f0849f" stroke-width="0.39" stroke-linejoin="round">осіб</text>
<text class="b" x="861.8" y="224.3" font-size="16.3" textLength="21.0" lengthAdjust="spacingAndGlyphs" fill="#c9185e"  stroke="#c9185e" stroke-width="0.73" stroke-linejoin="round">80</text>
<text class="b" x="886.0" y="224.3" font-size="8.6" textLength="18.3" lengthAdjust="spacingAndGlyphs" fill="#c9185e"  stroke="#c9185e" stroke-width="0.39" stroke-linejoin="round">осіб</text>
<text class="b" x="862.9" y="273.3" font-size="16.3" textLength="18.1" lengthAdjust="spacingAndGlyphs" fill="#7b1040"  stroke="#7b1040" stroke-width="0.73" stroke-linejoin="round">11</text>
<text class="b" x="886.0" y="273.3" font-size="8.6" textLength="18.3" lengthAdjust="spacingAndGlyphs" fill="#7b1040"  stroke="#7b1040" stroke-width="0.39" stroke-linejoin="round">осіб</text>
<path d="M731.90,325.40 A72,72 0 1 1 680.11,447.42" fill="none" stroke="url(#dk)" stroke-width="36"/>
<path d="M681.88,449.19 A72,72 0 0 1 731.90,325.40" fill="none" stroke="url(#dp)" stroke-width="36"/>
<path d="M732.7,347.4 V303.4" stroke="#f9f9f9" stroke-width="6.4"/>
<path d="M696.5,432.8 L665.4,463.9" stroke="#f9f9f9" stroke-width="4.6"/>
<text class="b" x="693.0" y="395.0" font-size="10.8" textLength="78.0" lengthAdjust="spacingAndGlyphs" fill="#111"  stroke="#111" stroke-width="0.49" stroke-linejoin="round">СТАТИСТИКА</text>
<text class="b" x="698.9" y="408.0" font-size="10.8" textLength="66.1" lengthAdjust="spacingAndGlyphs" fill="#111"  stroke="#111" stroke-width="0.49" stroke-linejoin="round">ЗА СТАТТЮ</text>
<g transform="translate(606.9,345.3) scale(1.86)" fill="url(#gm)"><use href="#pp"/></g>
<text class="b" x="589.6" y="453.2" font-size="16.9" textLength="34.5" lengthAdjust="spacingAndGlyphs" fill="#7b1fa2"  stroke="#7b1fa2" stroke-width="0.76" stroke-linejoin="round">156</text>
<text class="b" x="581.3" y="470.0" font-size="10.6" textLength="52.9" lengthAdjust="spacingAndGlyphs" fill="#7b1fa2"  stroke="#7b1fa2" stroke-width="0.48" stroke-linejoin="round">чоловіків</text>
<g fill="url(#gf)"><circle cx="855.1" cy="352.2" r="6.8"/>
<path d="M845.1,362.4 H865.1 Q867.7,362.4 868.4,365 L871.3,384.3 A2.1,2.1 0 0 1 867.2,385.2 L864.4,370.5 H863.7 L867.3,396.5 H862.3 V416.7 A3.1,3.1 0 0 1 856.1,416.7 V396.5 H854.1 V416.7 A3.1,3.1 0 0 1 847.9,416.7 V396.5 H842.9 L846.5,370.5 H845.8 L843.0,385.2 A2.1,2.1 0 0 1 838.9,384.3 L841.8,365 Q842.5,362.4 845.1,362.4Z"/></g>
<text class="b" x="838.9" y="453.6" font-size="16.9" textLength="34.1" lengthAdjust="spacingAndGlyphs" fill="#f07a9c"  stroke="#f07a9c" stroke-width="0.76" stroke-linejoin="round">194</text>
<text class="b" x="841.3" y="468.8" font-size="10.6" textLength="30.2" lengthAdjust="spacingAndGlyphs" fill="#f07a9c"  stroke="#f07a9c" stroke-width="0.48" stroke-linejoin="round">жінок</text>
<rect x="511" y="513.8" width="435.5" height="1.5" fill="#b3205c"/>
<rect x="520.0" y="533.75" width="73.6" height="17.5" fill="#f8d548"/>
<text class="b" x="538.5" y="536.2" font-size="9.8" textLength="36.0" lengthAdjust="spacingAndGlyphs" fill="#111"  stroke="#111" stroke-width="0.44" stroke-linejoin="round">ПІДОЗР</text>
<text class="b" x="523.0" y="547.0" font-size="9.9" textLength="67.8" lengthAdjust="spacingAndGlyphs" fill="#b3205c"  stroke="#b3205c" stroke-width="0.45" stroke-linejoin="round">ЗАФІКСОВАНО</text>
<text class="b" x="533.7" y="573.6" font-size="22.7" textLength="47.6" lengthAdjust="spacingAndGlyphs" fill="#b3205c"  stroke="#b3205c" stroke-width="1.02" stroke-linejoin="round">640</text>
<rect x="608.0" y="533.75" width="95.9" height="17.5" fill="#f8d548"/>
<text class="b" x="639.9" y="536.2" font-size="9.8" textLength="28.7" lengthAdjust="spacingAndGlyphs" fill="#111"  stroke="#111" stroke-width="0.44" stroke-linejoin="round">З НИХ</text>
<text class="b" x="610.4" y="547.0" font-size="9.9" textLength="89.9" lengthAdjust="spacingAndGlyphs" fill="#b3205c"  stroke="#b3205c" stroke-width="0.45" stroke-linejoin="round">ЗА ОСТАННЮ ДОБУ</text>
<text class="b" x="639.6" y="573.6" font-size="22.7" textLength="29.8" lengthAdjust="spacingAndGlyphs" fill="#b3205c"  stroke="#b3205c" stroke-width="1.02" stroke-linejoin="round">51</text>
<rect x="718.2" y="533.75" width="80.0" height="17.5" fill="#f8d548"/>
<text class="b" x="734.2" y="536.2" font-size="9.8" textLength="48.2" lengthAdjust="spacingAndGlyphs" fill="#111"  stroke="#111" stroke-width="0.44" stroke-linejoin="round">ВИПАДКІВ</text>
<text class="b" x="720.5" y="547.0" font-size="9.9" textLength="75.8" lengthAdjust="spacingAndGlyphs" fill="#b3205c"  stroke="#b3205c" stroke-width="0.45" stroke-linejoin="round">ПІДТВЕРДЖЕНО</text>
<text class="b" x="734.1" y="573.6" font-size="22.7" textLength="48.5" lengthAdjust="spacingAndGlyphs" fill="#b3205c"  stroke="#b3205c" stroke-width="1.02" stroke-linejoin="round">350</text>
<rect x="813.2" y="533.75" width="53.0" height="17.5" fill="#f8d548"/>
<text class="b" x="822.5" y="536.2" font-size="9.8" textLength="35.0" lengthAdjust="spacingAndGlyphs" fill="#111"  stroke="#111" stroke-width="0.44" stroke-linejoin="round">ЛЮДЕЙ</text>
<text class="b" x="815.8" y="547.0" font-size="9.9" textLength="48.5" lengthAdjust="spacingAndGlyphs" fill="#b3205c"  stroke="#b3205c" stroke-width="0.45" stroke-linejoin="round">ОДУЖАЛО</text>
<text class="b" x="824.1" y="573.6" font-size="22.7" textLength="31.7" lengthAdjust="spacingAndGlyphs" fill="#b3205c"  stroke="#b3205c" stroke-width="1.02" stroke-linejoin="round">37</text>
<rect x="882.5" y="533.75" width="52.5" height="17.5" fill="#f8d548"/>
<text class="b" x="891.2" y="536.2" font-size="9.8" textLength="35.0" lengthAdjust="spacingAndGlyphs" fill="#111"  stroke="#111" stroke-width="0.44" stroke-linejoin="round">ЛЮДЕЙ</text>
<text class="b" x="884.5" y="547.0" font-size="9.9" textLength="48.0" lengthAdjust="spacingAndGlyphs" fill="#b3205c"  stroke="#b3205c" stroke-width="0.45" stroke-linejoin="round">ПОМЕРЛО</text>
<text class="b" x="901.6" y="573.6" font-size="22.7" textLength="15.4" lengthAdjust="spacingAndGlyphs" fill="#b3205c"  stroke="#b3205c" stroke-width="1.02" stroke-linejoin="round">8</text>
<rect x="586.25" y="610.4" width="77.2" height="18.6" fill="#f8d548"/>
<text class="b" x="549.6" y="623.5" font-size="10.8" textLength="35.9" lengthAdjust="spacingAndGlyphs" fill="#111"  stroke="#111" stroke-width="0.49" stroke-linejoin="round">ПІДОЗР</text>
<text class="b" x="588.0" y="623.5" font-size="10.8" textLength="73.7" lengthAdjust="spacingAndGlyphs" fill="#b3205c"  stroke="#b3205c" stroke-width="0.49" stroke-linejoin="round">СПРОСТОВАНО:</text>
<text class="b" x="668.9" y="624.7" font-size="16.2" textLength="31.1" lengthAdjust="spacingAndGlyphs" fill="#b3205c"  stroke="#b3205c" stroke-width="0.73" stroke-linejoin="round">144</text>
<rect x="862.5" y="610.3" width="60.4" height="17.7" fill="#f8d548"/>
<text class="b" x="744.1" y="623.3" font-size="10.8" textLength="117.6" lengthAdjust="spacingAndGlyphs" fill="#111"  stroke="#111" stroke-width="0.49" stroke-linejoin="round">ВІЙСЬКОВОСЛУЖБОВЦІВ</text>
<text class="b" x="864.4" y="623.3" font-size="10.8" textLength="56.3" lengthAdjust="spacingAndGlyphs" fill="#b3205c"  stroke="#b3205c" stroke-width="0.49" stroke-linejoin="round">ЗАХВОРІЛО:</text>
<text class="b" x="931.6" y="624.4" font-size="15.0" textLength="9.4" lengthAdjust="spacingAndGlyphs" fill="#b3205c"  stroke="#b3205c" stroke-width="0.67" stroke-linejoin="round">5</text>
<g id="ic-test">
<path d="M519.2,611 h5.6 l1.2,4 -1,4.5 3,6 v4 h-13 v-3.5 l3.2,-6.5 -0.6,-4.5z" fill="#fdfdfd" stroke="#f1f1f4" stroke-width="0.6"/>
<rect x="510.3" y="630" width="17.3" height="4" rx="0.6" fill="#1e73d8"/>
<rect x="520" y="602.7" width="4" height="7" rx="1.6" fill="#1e73d8"/>
<path d="M527.6,613.4 L534.8,610.7" stroke="#1e73d8" stroke-width="3" stroke-linecap="round"/>
<circle cx="522" cy="613.4" r="2.9" fill="#fff"/><circle cx="522" cy="613.4" r="1.9" fill="#1e73d8"/>
<circle cx="522" cy="619.7" r="1" fill="#1f4f9e"/>
<circle cx="519.2" cy="626.4" r="1.8" fill="#2a62d4"/>
<path d="M529,621.3 C531.5,617.5 533.5,614.7 538,614.7 a6.6,6.6 0 1 1 0,13.2 C533.5,627.9 531.5,625 529,621.3z" fill="#f6cc3c"/>
<circle cx="537.7" cy="621.3" r="4.3" fill="#f2a23c"/>
<g stroke="#e8557e" stroke-width="1.1" stroke-linecap="round"><path d="M537.7,617.6 v7.4 M534,621.3 h7.4 M535.1,618.7 l5.2,5.2 M540.3,618.7 l-5.2,5.2"/></g>
<circle cx="537.7" cy="621.3" r="1.4" fill="#ee5fa0"/>
</g>
<g id="ic-mil">
<path d="M717,614 V606.8 Q727.3,601.2 738.3,606.8 V614 H740 V620 H738 V627.3 L727.4,633.8 L717.2,627.3 V620 H715 V614Z" fill="#1d3a33" stroke="#1d3a33" stroke-width="0.8" stroke-linejoin="round"/>
<path d="M718,606.9 Q727.3,602.6 737.3,606.9 V613.6 H718Z" fill="#202f4c"/>
<path d="M716,614.8 H739 V619.2 H737 V626.7 L727.4,632.5 L718.2,626.7 V619.2 H716Z" fill="#2f9a3e"/>
<path d="M718.2,623.4 L727.4,628.6 L737,623.4 V626.7 L727.4,632.5 L718.2,626.7Z" fill="#23774a"/>
<path d="M726.6,617.8 C722,614.2 718.5,615 716.8,616.4 C719.5,618.8 723.5,619.4 726.6,617.8Z M728.2,617.8 C732.8,614.2 736.3,615 738,616.4 C735.3,618.8 731.3,619.4 728.2,617.8Z" fill="#8fe05c"/>
<polygon points="721.40,607.70 722.11,609.42 723.97,609.57 722.56,610.78 722.99,612.58 721.40,611.62 719.81,612.58 720.24,610.78 718.83,609.57 720.69,609.42" fill="#f7d34a"/>
<polygon points="727.40,605.50 728.11,607.22 729.97,607.37 728.56,608.58 728.99,610.38 727.40,609.42 725.81,610.38 726.24,608.58 724.83,607.37 726.69,607.22" fill="#f7d34a"/>
<polygon points="734.00,607.70 734.71,609.42 736.57,609.57 735.16,610.78 735.59,612.58 734.00,611.62 732.41,612.58 732.84,610.78 731.43,609.57 733.29,609.42" fill="#f7d34a"/>
<polygon points="727.40,618.90 728.22,620.87 730.35,621.04 728.73,622.43 729.22,624.51 727.40,623.39 725.58,624.51 726.07,622.43 724.45,621.04 726.58,620.87" fill="#f4ea4a"/>
</g>
<g id="ic-coa">
<rect x="20.2" y="597.5" width="33.6" height="38.6" rx="7" fill="#f0d338"/>
<rect x="22.4" y="599.7" width="29.2" height="34.2" rx="5.5" fill="none" stroke="#2d3f8f" stroke-width="4" stroke-dasharray="2.1 3.3" stroke-dashoffset="1"/>
<rect x="24.4" y="601.7" width="25.2" height="30.2" rx="4" fill="none" stroke="#f0d338" stroke-width="1.6"/>
<path d="M31.5,597 q5.4,-3 10.8,0 l-1.5,5.4 h-7.8z" fill="#ece6d2" stroke="#55503c" stroke-width="0.8"/>
<path d="M26.2,603.6 H47.6 V622.5 Q47.6,628 36.9,629.6 Q26.2,628 26.2,622.5Z" fill="#2f9e44" stroke="#e8cf3a" stroke-width="1.2"/>
<path d="M30.4,623.6 C33.5,622.6 38,620 41.5,612.2 L44.4,614 C42.5,620.5 36.5,624.4 31,624.8Z" fill="#f2d43c"/>
<circle cx="41.2" cy="611.3" r="2" fill="#b5322c"/>
<circle cx="32.3" cy="612.2" r="2.3" fill="none" stroke="#dfeee0" stroke-width="0.9"/>
<path d="M30.5,608.5 L36.5,618.5" stroke="#dfeee0" stroke-width="0.8"/>
<path d="M31.5,634 l5.4,2.4 5.4,-2.4 1.6,2.6 -7,2.2 -7,-2.2z" fill="#2d3f8f"/>
</g>
<text x="66.2" y="614.3" font-size="12.3" textLength="126.3" lengthAdjust="spacingAndGlyphs" fill="#3a3a3a">ХАРКІВСЬКА ОБЛАСНА</text>
<text x="66.2" y="627.6" font-size="12.3" textLength="153.3" lengthAdjust="spacingAndGlyphs" fill="#3a3a3a">ДЕРЖАВНА АДМІНІСТРАЦІЯ</text>
</svg></body></html>
